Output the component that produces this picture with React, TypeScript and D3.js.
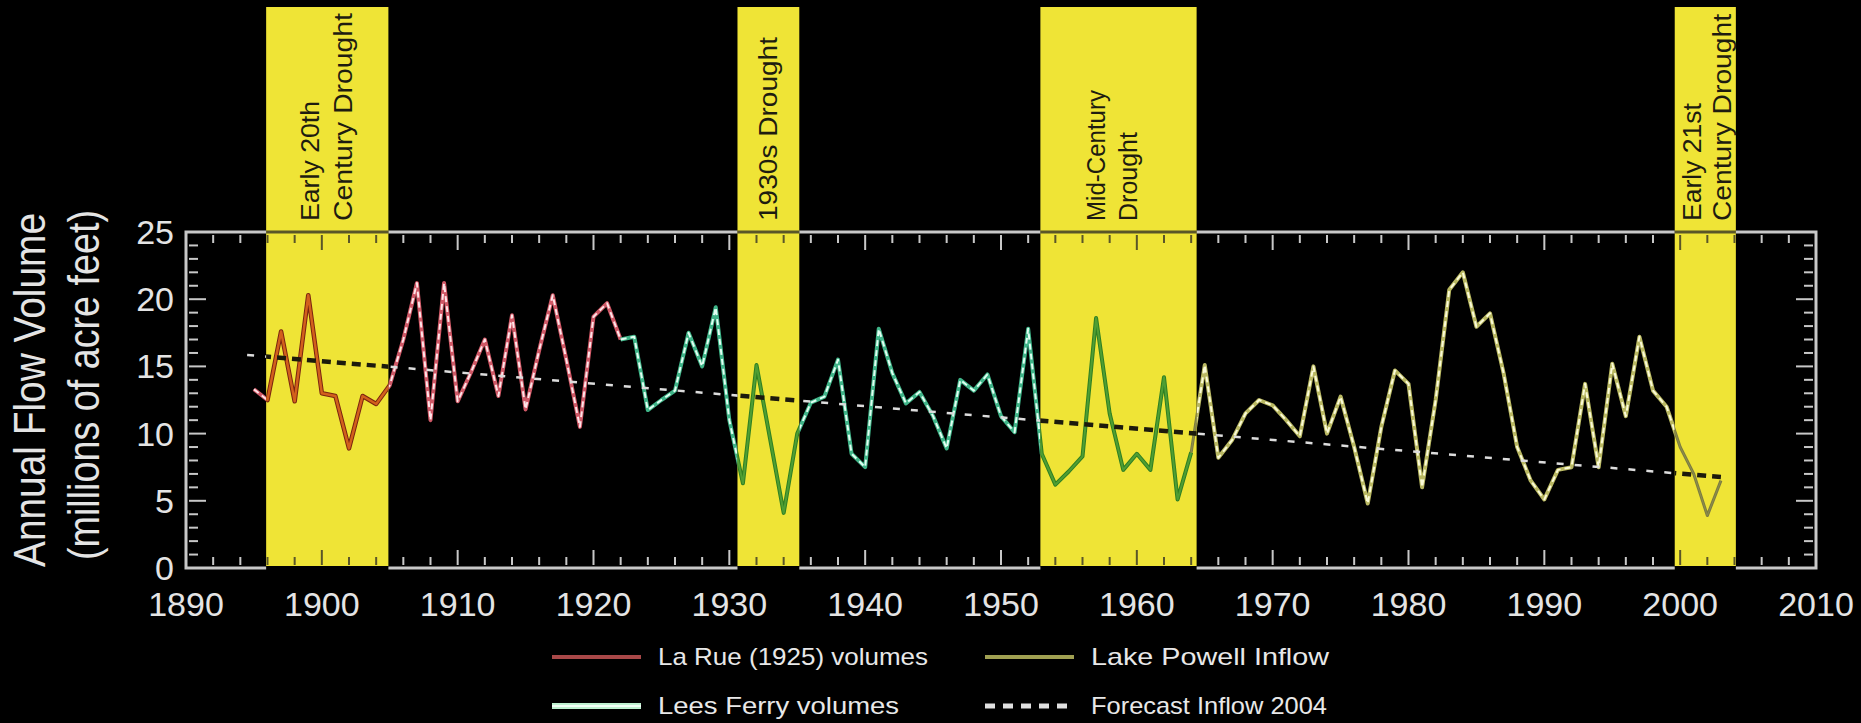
import React from 'react';
import * as d3 from 'd3';

const W = 1861;
const H = 723;

// ---------- data ----------
const bandStart = [1895.9, 1930.6, 1952.9, 1999.6];
const bandEnd = [1904.9, 1935.15, 1964.4, 2004.1];
const bandTitles = [
  ['Early 20th', 'Century Drought'],
  ['1930s Drought'],
  ['Mid-Century', 'Drought'],
  ['Early 21st', 'Century Drought'],
];

const laRueYears = [1895, 1896, 1897, 1898, 1899, 1900, 1901, 1902, 1903, 1904, 1905, 1906, 1907, 1908, 1909, 1910, 1911, 1912, 1913, 1914, 1915, 1916, 1917, 1918, 1919, 1920, 1921, 1922];
const laRueValues = [13.3, 12.5, 17.6, 12.4, 20.3, 13.0, 12.8, 8.9, 12.8, 12.2, 13.6, 17.0, 21.2, 11.0, 21.2, 12.4, 14.6, 17.0, 12.8, 18.8, 11.8, 16.2, 20.3, 15.5, 10.5, 18.7, 19.7, 17.0];

const leesYears = [1922, 1923, 1924, 1925, 1926, 1927, 1928, 1929, 1930, 1931, 1932, 1933, 1934, 1935, 1936, 1937, 1938, 1939, 1940, 1941, 1942, 1943, 1944, 1945, 1946, 1947, 1948, 1949, 1950, 1951, 1952, 1953, 1954, 1955, 1956, 1957, 1958, 1959, 1960, 1961, 1962, 1963, 1964];
const leesValues = [17.0, 17.2, 11.75, 12.5, 13.2, 17.5, 15.0, 19.4, 11.0, 6.3, 15.1, 9.6, 4.1, 10.0, 12.3, 12.75, 15.5, 8.5, 7.5, 17.8, 14.5, 12.25, 13.1, 11.3, 8.9, 14.0, 13.2, 14.4, 11.3, 10.1, 17.8, 8.5, 6.2, 7.2, 8.3, 18.6, 11.5, 7.3, 8.5, 7.3, 14.2, 5.1, 8.6];

const powellYears = [1964, 1965, 1966, 1967, 1968, 1969, 1970, 1971, 1972, 1973, 1974, 1975, 1976, 1977, 1978, 1979, 1980, 1981, 1982, 1983, 1984, 1985, 1986, 1987, 1988, 1989, 1990, 1991, 1992, 1993, 1994, 1995, 1996, 1997, 1998, 1999, 2000, 2001, 2002, 2003];
const powellValues = [8.6, 15.1, 8.2, 9.5, 11.5, 12.5, 12.1, 11.0, 9.8, 15.0, 10.0, 12.75, 9.0, 4.8, 10.5, 14.7, 13.7, 6.0, 12.5, 20.7, 22.0, 17.95, 18.95, 14.5, 9.0, 6.5, 5.1, 7.3, 7.5, 13.7, 7.5, 15.2, 11.3, 17.2, 13.2, 12.0, 9.0, 7.0, 3.9, 6.5];

const forecastYears = [1894.5, 2003];
const forecastValues = [15.85, 6.77];

const xTickLabels = ['1890', '1900', '1910', '1920', '1930', '1940', '1950', '1960', '1970', '1980', '1990', '2000', '2010'];
const yTickLabels = ['0', '5', '10', '15', '20', '25'];

const legendLabels = ['La Rue (1925) volumes', 'Lake Powell Inflow', 'Lees Ferry volumes', 'Forecast Inflow 2004'];

// ---------- layout ----------
const PL = 186, PR = 1816, PT = 232, PB = 568;
const x = d3.scaleLinear().domain([1890, 2010]).range([PL, PR]);
const y = d3.scaleLinear().domain([0, 25]).range([PB, PT]);
const line = d3.line<[number, number]>().x(d => x(d[0])).y(d => y(d[1]));

const zip = (a: number[], b: number[]) => a.map((v, i) => [v, b[i]] as [number, number]);

const series = [
  { pts: zip(laRueYears, laRueValues), light: '#cf5866', dash: '#ffe4e8', darkOuter: '#7a2410', dark: '#d2601c', dw: 4.5 },
  { pts: zip(leesYears, leesValues), light: '#3fb488', dash: '#e2fff2', darkOuter: '#2f7f22', dark: '#4f9e33', dw: 4 },
  { pts: zip(powellYears, powellValues), light: '#b9b862', dash: '#fbfbd8', darkOuter: '#7c7c40', dark: '#8e8e4c', dw: 3 },
];

const BAND_TOP = 7;
const BAND_BOTTOM = PB - 2;

const bandsPx = bandStart.map((s, i) => [x(s), x(bandEnd[i])]);
const gapStarts = [0, ...bandsPx.map(b => b[1])];
const gapEnds = [...bandsPx.map(b => b[0]), W];

const titleBottom = 221;
const titleOffsets = [[-17, 16], [0], [-22, 10], [-13, 17]];
const titleLengths = [[120, 208], [184], [131, 0], [118, 207]];

const FONT = "'Liberation Sans', Arial, sans-serif";

function AxisFrame({ color }: { color: string }) {
  const xt = d3.range(1890, 2011, 2);
  const yt = d3.range(0, 26, 1);
  return (
    <g stroke={color} fill="none">
      <rect x={PL} y={PT} width={PR - PL} height={PB - PT} strokeWidth={3} />
      {xt.map(t => {
        const len = t % 10 === 0 ? 15 : 8;
        return (
          <g key={'x' + t} strokeWidth={2}>
            <line x1={x(t)} x2={x(t)} y1={PT + 3} y2={PT + 3 + len} />
            <line x1={x(t)} x2={x(t)} y1={PB - 3} y2={PB - 3 - len} />
          </g>
        );
      })}
      {yt.map(t => {
        const len = t % 5 === 0 ? 17 : 9;
        return (
          <g key={'y' + t} strokeWidth={2}>
            <line x1={PL + 3} x2={PL + 3 + len} y1={y(t)} y2={y(t)} />
            <line x1={PR - 3} x2={PR - 3 - len} y1={y(t)} y2={y(t)} />
          </g>
        );
      })}
    </g>
  );
}

export default function App() {
  const fpts = zip(forecastYears, forecastValues);
  return (
    <div style={{ position: 'absolute', left: 0, top: 0, width: W, height: H, background: '#000' }}>
      <svg width={W} height={H} style={{ display: 'block' }}>
        <defs>
          <clipPath id="inBands">
            {bandsPx.map((b, i) => (
              <rect key={i} x={b[0]} y={BAND_TOP} width={b[1] - b[0]} height={BAND_BOTTOM - BAND_TOP} />
            ))}
          </clipPath>
          <clipPath id="outBands">
            {gapStarts.map((s, i) => (
              <rect key={i} x={s} y={0} width={Math.max(0, gapEnds[i] - s)} height={H} />
            ))}
          </clipPath>
        </defs>
        <rect x={0} y={0} width={W} height={H} fill="#000" />

        {/* drought bands */}
        {bandsPx.map((b, i) => (
          <rect key={'band' + i} x={b[0]} y={BAND_TOP} width={b[1] - b[0]} height={BAND_BOTTOM - BAND_TOP} fill="#efe436" />
        ))}

        {/* axis frame: light outside bands, dark inside */}
        <g clipPath="url(#outBands)"><AxisFrame color="#c8c8c8" /></g>
        <g clipPath="url(#inBands)"><AxisFrame color="#5a5628" /></g>

        {/* series outside bands */}
        <g clipPath="url(#outBands)">
          {series.map((s, i) => (
            <g key={'o' + i} fill="none" strokeLinejoin="round">
              <path d={line(s.pts) || ''} stroke={s.light} strokeWidth={4} />
              <path d={line(s.pts) || ''} stroke={s.dash} strokeWidth={2} strokeDasharray="6 4" />
            </g>
          ))}
          <path d={line(fpts) || ''} fill="none" stroke="#dcdcdc" strokeWidth={2.5} strokeDasharray="7 11" />
        </g>

        {/* series inside bands */}
        <g clipPath="url(#inBands)">
          {series.map((s, i) => (
            <g key={'i' + i} fill="none" strokeLinejoin="round">
              <path d={line(s.pts) || ''} stroke={s.darkOuter} strokeWidth={s.dw} />
              <path d={line(s.pts) || ''} stroke={s.dark} strokeWidth={s.dw - 2} />
            </g>
          ))}
          <path d={line(fpts) || ''} fill="none" stroke="#1c1a0c" strokeWidth={4.5} strokeDasharray="9 6" />
        </g>

        {/* band titles */}
        {bandTitles.map((lines, i) => {
          const cx = (bandsPx[i][0] + bandsPx[i][1]) / 2;
          return lines.map((t, j) => {
            const px = cx + titleOffsets[i][j];
            const tl = titleLengths[i][j];
            return (
              <text
                key={'t' + i + j}
                transform={`translate(${px},${titleBottom}) rotate(-90)`}
                dy="0.35em"
                fontFamily={FONT}
                fontSize={25}
                fill="#1e1c10"
                {...(tl ? { textLength: tl, lengthAdjust: 'spacingAndGlyphs' } : {})}
              >
                {t}
              </text>
            );
          });
        })}

        {/* tick labels */}
        {xTickLabels.map(t => (
          <text key={'xl' + t} x={x(+t)} y={616} textAnchor="middle" fontFamily={FONT} fontSize={34} fill="#e4e4e4">
            {t}
          </text>
        ))}
        {yTickLabels.map(t => (
          <text key={'yl' + t} x={174} y={y(+t)} dy="0.35em" textAnchor="end" fontFamily={FONT} fontSize={34} fill="#e4e4e4">
            {t}
          </text>
        ))}

        {/* y-axis title */}
        <text transform="translate(30,390) rotate(-90)" dy="0.35em" textAnchor="middle" fontFamily={FONT} fontSize={44}
          fill="#e4e4e4" textLength={354} lengthAdjust="spacingAndGlyphs">
          Annual Flow Volume
        </text>
        <text transform="translate(84,385) rotate(-90)" dy="0.35em" textAnchor="middle" fontFamily={FONT} fontSize={44}
          fill="#e4e4e4" textLength={350} lengthAdjust="spacingAndGlyphs">
          (millions of acre feet)
        </text>

        {/* legend */}
        <g fontFamily={FONT} fontSize={24} fill="#e8e8e8">
          <line x1={552} x2={641} y1={657} y2={657} stroke="#a84848" strokeWidth={4} />
          <text x={658} y={657} dy="0.35em" textLength={270} lengthAdjust="spacingAndGlyphs">{legendLabels[0]}</text>
          <line x1={985} x2={1074} y1={657} y2={657} stroke="#a0a052" strokeWidth={4} />
          <text x={1091} y={657} dy="0.35em" textLength={238} lengthAdjust="spacingAndGlyphs">{legendLabels[1]}</text>
          <line x1={552} x2={641} y1={706} y2={706} stroke="#bdf0cf" strokeWidth={6} />
          <line x1={552} x2={641} y1={706} y2={706} stroke="#f2fff6" strokeWidth={2} />
          <text x={658} y={706} dy="0.35em" textLength={241} lengthAdjust="spacingAndGlyphs">{legendLabels[2]}</text>
          <line x1={985} x2={1074} y1={706} y2={706} stroke="#e0e0e0" strokeWidth={5} strokeDasharray="10 8" />
          <text x={1091} y={706} dy="0.35em" textLength={236} lengthAdjust="spacingAndGlyphs">{legendLabels[3]}</text>
        </g>
      </svg>
    </div>
  );
}
